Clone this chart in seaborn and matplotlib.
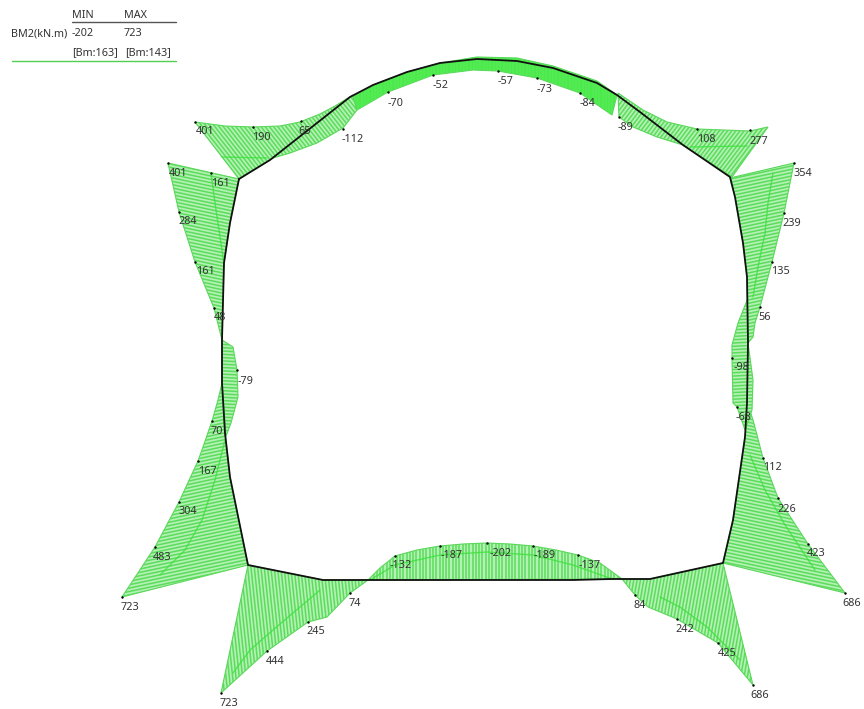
import numpy as np
import pandas as pd
import matplotlib
matplotlib.use("Agg")
import matplotlib.pyplot as plt
from matplotlib.collections import LineCollection
from matplotlib.patches import Polygon
import seaborn as sns

# axes run in picture units, the diagram has no scale of its own
# structure outline
frame_x = [239, 270, 350, 373, 407, 440, 477, 517, 553, 597, 617, 640, 683, 730, 735, 743, 747, 748, 747, 745,
           733, 723, 650, 612, 573, 400, 323, 248, 230, 225, 222, 222, 224, 230, 239]
frame_y = [179, 160, 97, 85, 72, 63, 59, 61, 68, 83, 95, 112, 145, 177, 197, 243, 277, 343, 403, 437,
           520, 563, 579, 579, 580, 580, 580, 565, 477, 433, 383, 340, 263, 223, 179]

# moment envelope for each stretch of the frame
top_left_x = [195, 225, 253, 280, 300, 320, 335, 353, 357, 343, 317, 290, 273, 239]
top_left_y = [122, 126, 127, 126, 122, 114, 106, 95, 110, 128, 143, 153, 158, 179]
crown_x = [353, 373, 407, 440, 477, 517, 553, 597, 617, 612, 580, 537, 498, 473, 433, 388, 357]
crown_y = [97, 85, 72, 63, 57, 58, 66, 81, 95, 115, 93, 78, 71, 70, 75, 92, 110]
top_right_x = [618, 643, 667, 697, 750, 768, 732, 683, 657, 633, 619]
top_right_y = [93, 110, 122, 129, 131, 127, 177, 145, 137, 127, 117]
left_up_x = [168, 179, 195, 214, 222, 224, 230, 239]
left_up_y = [163, 212, 262, 308, 340, 263, 223, 179]
left_mid_x = [222, 233, 237, 238, 231, 226, 222]
left_mid_y = [340, 347, 370, 397, 423, 436, 383]
left_low_x = [222, 218, 212, 203, 198, 179, 155, 122, 248, 230, 225]
left_low_y = [383, 400, 421, 447, 461, 502, 547, 597, 565, 477, 433]
bot_left_x = [248, 221, 267, 308, 327, 350, 368, 323]
bot_left_y = [565, 693, 651, 622, 617, 593, 580, 580]
bot_mid_x = [368, 380, 395, 417, 440, 463, 487, 510, 533, 556, 578, 600, 622]
bot_mid_y = [580, 568, 556, 550, 546, 544, 543, 544, 546, 550, 555, 563, 579]
bot_right_x = [622, 635, 648, 677, 718, 753, 723, 650]
bot_right_y = [579, 595, 607, 619, 643, 685, 563, 579]
right_low_x = [748, 753, 757, 763, 778, 808, 845, 723, 733, 745]
right_low_y = [405, 420, 435, 458, 498, 544, 593, 563, 520, 437]
right_mid_x = [748, 738, 732, 732, 733, 737, 745, 752, 753, 748]
right_mid_y = [298, 323, 345, 358, 403, 407, 430, 410, 380, 343]
right_up_x = [730, 794, 784, 772, 760, 755, 753, 748, 747, 743, 735]
right_up_y = [178, 163, 213, 262, 307, 323, 337, 343, 277, 243, 197]

# brighter inner curves seen inside the panels
inner_curves = [
    ([222, 267], [157, 158]),
    ([690, 747], [147, 146]),
    ([211, 216, 222, 224], [173, 210, 250, 265]),
    ([773, 768, 765, 758, 753], [173, 203, 233, 267, 297]),
    ([225, 215, 202, 185, 160], [440, 480, 520, 550, 575]),
    ([233, 250, 273, 300, 320], [673, 650, 630, 607, 590]),
    ([370, 395, 440, 487, 533, 573, 612], [580, 565, 555, 552, 555, 565, 579]),
    ([660, 680, 707, 740], [597, 607, 627, 660]),
    ([750, 765, 785, 815], [455, 490, 525, 570]),
]

# values printed at the stations, with their dots and label places
moment_vals = ["401", "190", "65", "-112", "-70", "-52", "-57", "-73", "-84", "-89", "108", "277",
               "354", "239", "135", "56", "-98", "-68", "112", "226", "423", "686",
               "686", "425", "242", "84", "-137", "-189", "-202", "-187", "-132", "74", "245", "444", "723",
               "723", "483", "304", "167", "70", "-79", "48", "161", "284", "401", "161"]
dot_x = [195, 253, 301, 343, 388, 433, 498, 537, 580, 619, 697, 750,
         794, 784, 772, 760, 732, 737, 763, 778, 808, 845,
         753, 718, 677, 635, 578, 533, 487, 440, 395, 350, 308, 267, 221,
         122, 155, 179, 198, 212, 237, 214, 195, 179, 168, 211]
dot_y = [122, 127, 121, 129, 92, 75, 71, 78, 93, 117, 129, 130,
         163, 213, 262, 307, 358, 407, 458, 498, 544, 593,
         685, 643, 619, 595, 555, 546, 543, 546, 556, 593, 622, 651, 693,
         597, 547, 502, 461, 421, 370, 308, 262, 212, 163, 173]
label_x = [205, 261, 305, 353, 396, 441, 506, 545, 588, 625, 706, 759,
           803, 792, 780, 765, 741, 743, 772, 787, 816, 852,
           760, 727, 685, 640, 590, 545, 501, 452, 401, 355, 316, 275, 229,
           130, 162, 188, 207, 217, 245, 220, 205, 188, 178, 220]
label_y = [132, 137, 132, 140, 103, 86, 81, 89, 104, 127, 140, 141,
           174, 224, 272, 317, 368, 417, 468, 509, 554, 603,
           695, 654, 629, 605, 566, 556, 554, 556, 566, 604, 632, 661, 703,
           607, 557, 512, 471, 432, 381, 318, 272, 222, 174, 184]

table_rows = [("MIN", 72, 15), ("MAX", 124, 15), ("BM2(kN.m)", 11, 34), ("-202", 72, 34), ("723", 124, 34),
              ("[Bm:163]", 72, 53), ("[Bm:143]", 125, 53)]

sns.set_style("white")
plt.rcParams["font.family"] = ["Noto Sans", "DejaVu Sans"]

fig = plt.figure(figsize=(8.64, 7.09), dpi=100)
ax = fig.add_axes([0, 0, 1, 1])

GREEN = "#4fd04f"


def draw_panel(px, py, angle, face="#b4f1b4", line="#5cdc5c"):
    # filled outline plus tilted ruling, clipped like a hatch
    poly = Polygon(np.c_[px, py], closed=True, facecolor=face, edgecolor="#5ad65a", lw=0.8, zorder=1)
    ax.add_patch(poly)
    a = np.deg2rad(angle)
    dx, dy = np.cos(a), np.sin(a)
    cx, cy = np.mean(px), np.mean(py)
    segs = [[(cx - o * dy - 400 * dx, cy + o * dx - 400 * dy), (cx - o * dy + 400 * dx, cy + o * dx + 400 * dy)]
            for o in np.arange(-400, 400, 3.3)]
    lc = LineCollection(segs, colors=line, linewidths=1.1, zorder=1)
    ax.add_collection(lc)
    lc.set_clip_path(poly)


panels = [
    (top_left_x, top_left_y, 52),
    (top_right_x, top_right_y, 127),
    (left_up_x, left_up_y, 12),
    (left_mid_x, left_mid_y, 3),
    (left_low_x, left_low_y, -12),
    (bot_left_x, bot_left_y, 84),
    (bot_mid_x, bot_mid_y, 90),
    (bot_right_x, bot_right_y, 100),
    (right_low_x, right_low_y, 12),
    (right_mid_x, right_mid_y, -3),
    (right_up_x, right_up_y, -12),
]
for px, py, angle in panels:
    draw_panel(px, py, angle)
draw_panel(crown_x, crown_y, 90, face="#4aea4a", line="#58ea58")

for cx_, cy_ in inner_curves:
    ax.plot(cx_, cy_, color="#3ce23c", lw=1.0, alpha=0.8, zorder=2)

frame = pd.DataFrame({"x": frame_x, "y": frame_y})
sns.lineplot(data=frame, x="x", y="y", sort=False, estimator=None, color="#111111", lw=1.3, ax=ax, zorder=3)

dots = pd.DataFrame({"x": dot_x, "y": dot_y})
sns.scatterplot(data=dots, x="x", y="y", color="black", s=3, linewidth=0, ax=ax, zorder=4)

for val, lx, ly in zip(moment_vals, label_x, label_y):
    ax.text(lx, ly, val, ha="center", va="center", fontsize=7.8, color="#333333", zorder=5)
for txt, tx, ty in table_rows:
    ax.text(tx, ty, txt, ha="left", va="center", fontsize=7.8, color="#333333")

ax.plot([72, 176], [22, 22], color="#555555", lw=1)
ax.plot([12, 176], [61, 61], color=GREEN, lw=1)

ax.set_xlim(0, 864)
ax.set_ylim(709, 0)
ax.set_xlabel("")
ax.set_ylabel("")
ax.axis("off")
fig.savefig("out.png", dpi=100)
